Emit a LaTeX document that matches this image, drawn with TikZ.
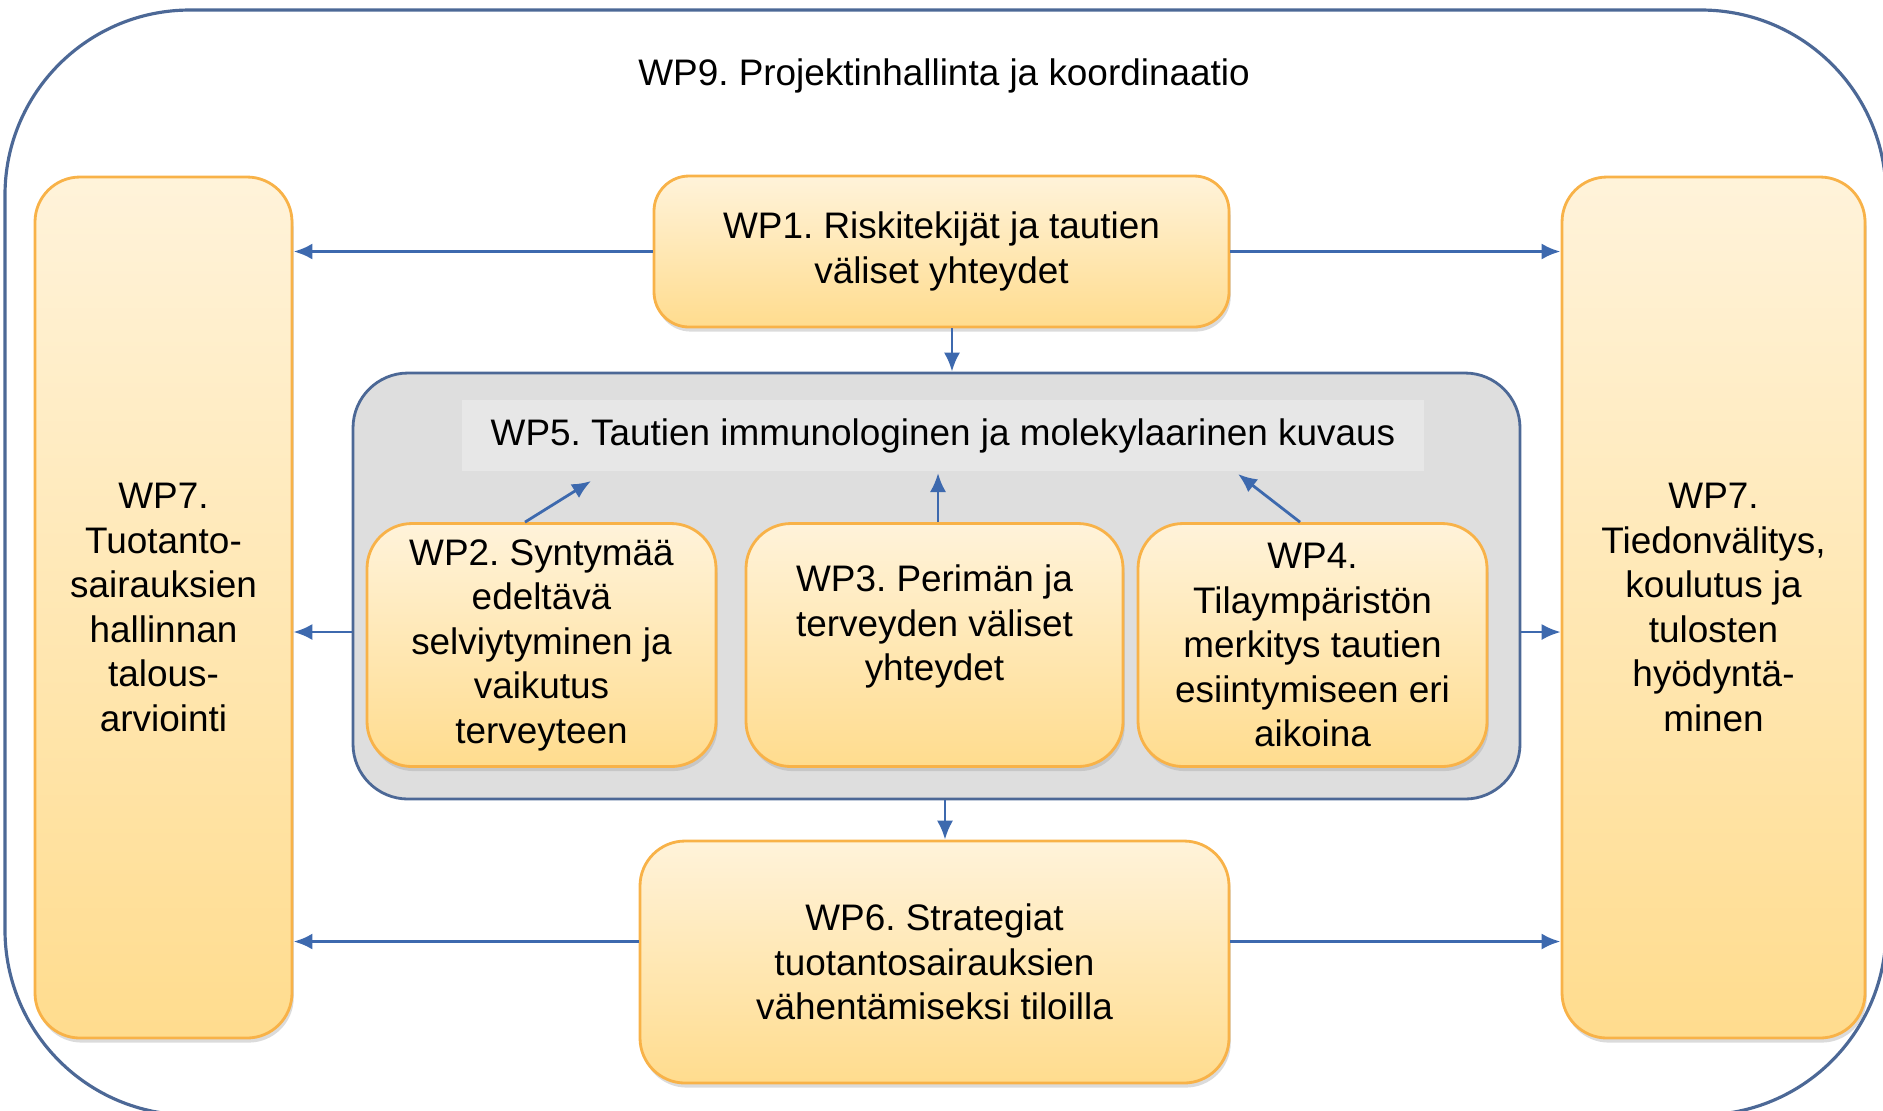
\documentclass[tikz,border=0pt]{standalone}
\usepackage{fontspec}
\setmainfont{Liberation Sans}
\usetikzlibrary{arrows.meta,shadows}
\frenchspacing

\definecolor{wpedge}{RGB}{248,178,72}
\definecolor{wptop}{RGB}{255,243,218}
\definecolor{wpbottom}{RGB}{255,220,142}
\definecolor{wpblue}{RGB}{61,105,174}
\definecolor{wpframe}{RGB}{76,104,150}
\definecolor{wpgray}{RGB}{222,222,222}
\definecolor{wpband}{RGB}{231,231,231}

\begin{document}
\begin{tikzpicture}[y=-1cm,
    wptext/.style={font=\fontsize{10.5}{12.65}\selectfont, align=center},
    wpbox/.style={wptext, draw=wpedge, line width=0.8pt, rounded corners=0.45cm,
        top color=wptop, bottom color=wpbottom, inner sep=0pt,
        drop shadow={shadow xshift=0.5pt, shadow yshift=-1.3pt, fill=black!35, opacity=0.4}},
    link/.style={draw=wpblue, line width=1pt, -{Latex[length=5.4pt,width=4.6pt]}},
    thinlink/.style={link, line width=0.8pt}]

	% page and outer frame (WP9)
	\useasboundingbox (0,0) rectangle (18.83,11.10);
	\clip (0,0) rectangle (18.83,11.10);
	\draw[wpframe, line width=0.9pt, rounded corners=1.85cm] (0.05,0.10) rectangle (18.86,11.15);
	\node[wptext] (wp9) at (9.44,0.76) {WP9. Projektinhallinta ja koordinaatio};

	% side boxes
	\node[wpbox, minimum width=2.57cm, minimum height=8.61cm] (wp7a) at (1.635,6.075)
	    {WP7.\\Tuotanto-\\sairauksien\\hallinnan\\talous-\\arviointi};
	\node[wpbox, minimum width=3.03cm, minimum height=8.61cm] (wp7b) at (17.135,6.075)
	    {WP7.\\Tiedonvälitys,\\koulutus ja\\tulosten\\hyödyntä-\\minen};

	% top and bottom boxes
	\node[wpbox, minimum width=5.75cm, minimum height=1.51cm, rounded corners=0.35cm] (wp1) at (9.415,2.515)
	    {WP1. Riskitekijät ja tautien\\väliset yhteydet};
	\node[wpbox, minimum width=5.89cm, minimum height=2.42cm] (wp6) at (9.345,9.62)
	    {WP6. Strategiat\\tuotantosairauksien\\vähentämiseksi tiloilla};

	% WP5 with its three boxes
	\node[draw=wpframe, fill=wpgray, line width=0.8pt, rounded corners=0.55cm,
	    minimum width=11.67cm, minimum height=4.26cm] (wp5) at (9.365,5.86) {};
	\node[wptext, fill=wpband, minimum width=9.62cm, minimum height=0.71cm] (wp5txt) at (9.43,4.355)
	    {WP5. Tautien immunologinen ja molekylaarinen kuvaus};
	\node[wpbox, minimum width=3.49cm, minimum height=2.43cm] (wp2) at (5.415,6.45)
	    {WP2. Syntymää\\edeltävä\\selviytyminen ja\\vaikutus\\terveyteen};
	\node[wpbox, minimum width=3.77cm, minimum height=2.43cm] (wp3) at (9.345,6.45)
	    {WP3. Perimän ja\\terveyden väliset\\yhteydet\\\mbox{}};
	\node[wpbox, minimum width=3.49cm, minimum height=2.43cm] (wp4) at (13.125,6.45)
	    {WP4.\\Tilaympäristön\\merkitys tautien\\esiintymiseen eri\\aikoina};

	% arrows out to the sides
	\draw[link] (wp1.west) -- (wp1.west -| wp7a.east);
	\draw[link] (wp1.east) -- (wp1.east -| wp7b.west);
	\draw[thinlink] (wp5.west |- 0,6.32) -- (wp7a.east |- 0,6.32);
	\draw[thinlink] (wp5.east |- 0,6.32) -- (wp7b.west |- 0,6.32);
	\draw[link] (wp6.west |- 0,9.415) -- (wp7a.east |- 0,9.415);
	\draw[link] (wp6.east |- 0,9.415) -- (wp7b.west |- 0,9.415);

	% arrows down the middle
	\draw[thinlink] (wp1.south -| 9.52,0) -- (wp5.north -| 9.52,0);
	\draw[thinlink] (wp5.south -| 9.45,0) -- (wp6.north -| 9.45,0);

	% arrows up to WP5
	\coordinate (wp2up) at (5.91,4.81);
	\coordinate (wp4up) at (12.38,4.74);
	\draw[thinlink] (wp2.north -| 5.25,0) -- (wp2up);
	\draw[thinlink] (wp3.north -| 9.38,0) -- (9.38,4.73);
	\draw[thinlink] (wp4.north -| 13.00,0) -- (wp4up);

\end{tikzpicture}
\end{document}
